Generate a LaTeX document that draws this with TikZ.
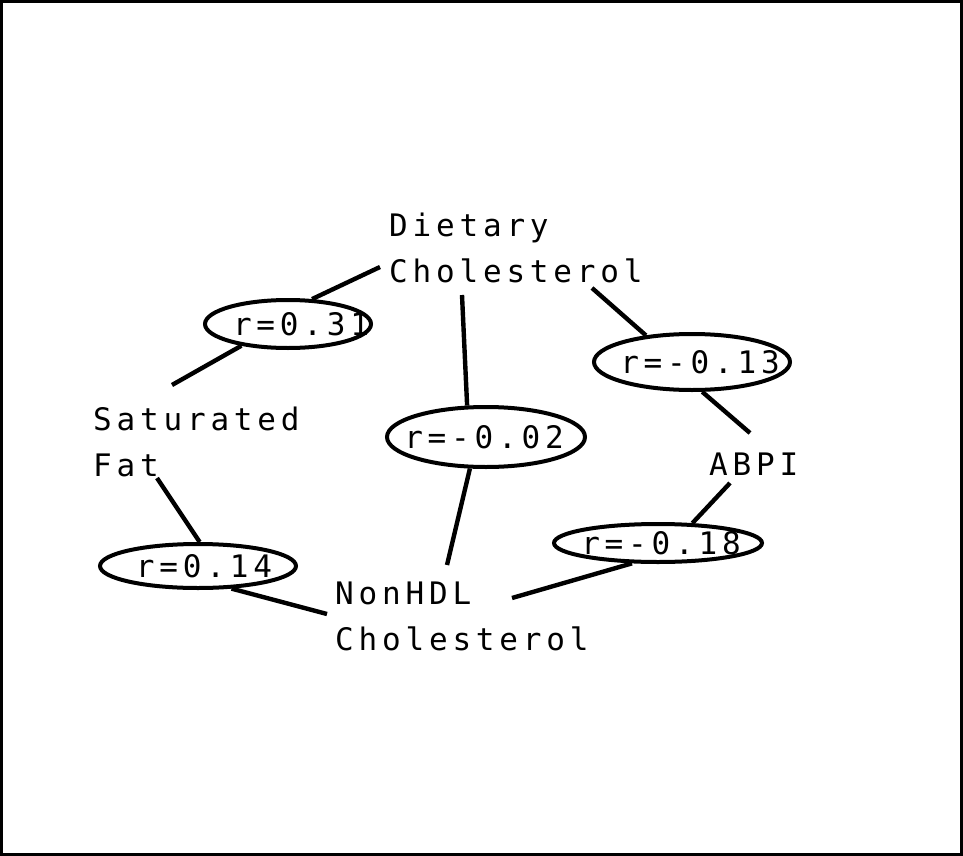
\documentclass[tikz,border=0pt]{standalone}
\usepackage{fontspec}
\newfontfamily\plotfont[LetterSpace=15.5]{DejaVu Sans Mono}
\usetikzlibrary{shapes.geometric}
\newcommand\shtxt[2]{\makebox[0pt]{\hspace*{#1pt}\hspace*{#1pt}#2}}
\begin{document}
\begin{tikzpicture}[x=1pt,y=-1pt,
  lbl/.style={font=\plotfont\fontsize{31}{46}\selectfont, inner sep=0pt, anchor=base west, align=left},
  corr/.style={ellipse, draw, line width=4pt, inner sep=0pt, font=\plotfont\fontsize{31}{46}\selectfont, text height=22pt, text depth=0pt},
  link/.style={line width=4.4pt}]
\useasboundingbox (0,0) rectangle (963,856);
\draw[line width=3pt] (1.5,1.5) rectangle (961.5,854);

\node[lbl] (dc) at (389,282) {Dietary\\Cholesterol};
\node[lbl] (sf) at (93,476) {Saturated\\Fat};
\node[lbl] (nh) at (335,650) {NonHDL\\Cholesterol};
\node[lbl] (abpi) at (709,475) {ABPI};

\node[corr, minimum width=166pt, minimum height=48pt] (r31) at (288,324) {\shtxt{13}{r=0.31}};
\node[corr, minimum width=196pt, minimum height=56pt] (r13) at (692,362) {\shtxt{8}{r=-0.13}};
\node[corr, minimum width=198pt, minimum height=60pt] (r02) at (486,437) {\shtxt{-2}{r=-0.02}};
\node[corr, minimum width=196pt, minimum height=44pt] (r14) at (198,566) {\shtxt{6}{r=0.14}};
\node[corr, minimum width=208pt, minimum height=38pt] (r18) at (658,543) {\shtxt{3}{r=-0.18}};

\draw[link] ([shift={(-9,-15)}]dc.base west) -- (r31.46);
\draw[link] ([shift={(203,6)}]dc.base west) -- (r13.150);
\draw[link] ([shift={(73,13)}]dc.base west) -- (r02.121);
\draw[link] ([shift={(79,-91)}]sf.base west) -- (r31.205);
\draw[link] ([shift={(64,2)}]sf.base west) -- (r14.86);
\draw[link] ([shift={(41,-42)}]abpi.base west) -- (r13.289);
\draw[link] ([shift={(21,8)}]abpi.base west) -- (r18.30);
\draw[link] ([shift={(112,-85)}]nh.base west) -- (r02.243);
\draw[link] ([shift={(-8,-36)}]nh.base west) -- (r14.326);
\draw[link] ([shift={(177,-52)}]nh.base west) -- (r18.218);
\end{tikzpicture}
\end{document}
